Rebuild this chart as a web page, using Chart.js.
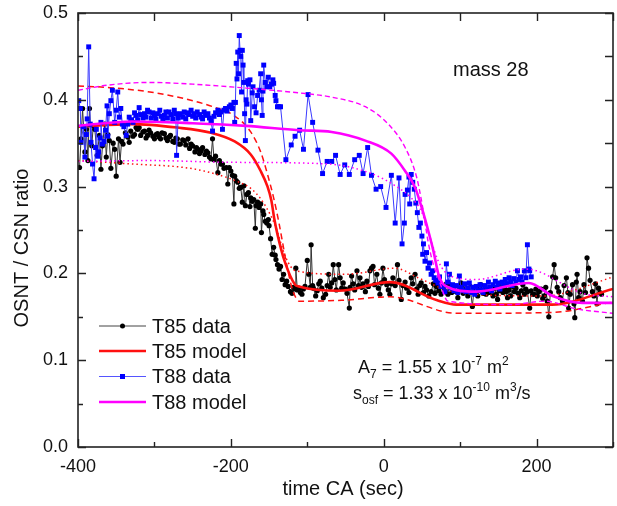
<!DOCTYPE html>
<html>
<head>
<meta charset="utf-8">
<script src="https://cdn.jsdelivr.net/npm/chart.js@4.4.1/dist/chart.umd.min.js"></script>
<style>
  html, body { margin: 0; padding: 0; background: #fff; }
  #wrap { width: 617px; height: 506px; }
</style>
</head>
<body>
<div id="wrap"><canvas id="chart" width="617" height="506"></canvas></div>
<script>
// [time CA (sec), OSNT / CSN ratio]
const t85Data = [
  [-398,0.322],[-396,0.355],[-394,0.390],[-391,0.340],[-389,0.366],[-387,0.330],[-385,0.390],[-382,0.347],
  [-380,0.370],[-378,0.366],[-375,0.336],[-372,0.359],[-370,0.320],[-368,0.347],[-365,0.372],[-363,0.334],
  [-361,0.360],[-359,0.353],[-357,0.321],[-354,0.350],[-352,0.343],[-350,0.312],[-347,0.355],[-345,0.328],
  [-343,0.352],[-341,0.349],[-338,0.362],[-335,0.357],[-333,0.351],[-331,0.364],[-328,0.358],[-326,0.360],
  [-324,0.368],[-322,0.366],[-320,0.368],[-318,0.359],[-315,0.363],[-313,0.364],[-311,0.356],[-309,0.359],
  [-307,0.365],[-305,0.362],[-302,0.358],[-300,0.355],[-298,0.360],[-296,0.361],[-294,0.357],[-292,0.355],
  [-290,0.362],[-287,0.361],[-285,0.356],[-283,0.353],[-281,0.357],[-279,0.359],[-276,0.352],[-274,0.351],
  [-272,0.356],[-270,0.355],[-268,0.349],[-266,0.349],[-263,0.354],[-261,0.353],[-259,0.348],[-256,0.355],
  [-254,0.344],[-252,0.349],[-250,0.347],[-247,0.340],[-245,0.345],[-243,0.343],[-241,0.338],[-239,0.341],
  [-237,0.345],[-234,0.337],[-232,0.341],[-230,0.339],[-228,0.334],[-226,0.332],[-224,0.355],[-222,0.331],
  [-220,0.335],[-217,0.316],[-215,0.330],[-213,0.326],[-211,0.326],[-209,0.321],[-206,0.322],[-204,0.303],
  [-202,0.322],[-200,0.318],[-198,0.313],[-196,0.280],[-195,0.312],[-193,0.307],[-191,0.305],[-189,0.298],
  [-187,0.299],[-185,0.282],[-183,0.301],[-181,0.278],[-179,0.291],[-177,0.293],[-175,0.277],[-174,0.287],
  [-172,0.283],[-170,0.285],[-168,0.252],[-167,0.278],[-165,0.282],[-163,0.276],[-161,0.280],[-160,0.247],
  [-158,0.272],[-157,0.268],[-155,0.260],[-153,0.258],[-151,0.262],[-150,0.255],[-148,0.240],[-146,0.222],
  [-144,0.230],[-142,0.221],[-141,0.216],[-139,0.210],[-137,0.205],[-135,0.208],[-133,0.193],[-131,0.199],
  [-129,0.187],[-127,0.191],[-125,0.185],[-122,0.179],[-120,0.177],[-118,0.184],[-116,0.182],[-115,0.206],
  [-113,0.181],[-111,0.183],[-109,0.178],[-107,0.176],[-105,0.182],[-103,0.185],[-100,0.215],[-98,0.199],
  [-96,0.184],[-95,0.233],[-93,0.186],[-92,0.183],[-89,0.174],[-87,0.180],[-85,0.188],[-83,0.191],
  [-81,0.183],[-79,0.172],[-76,0.176],[-74,0.186],[-72,0.199],[-70,0.184],[-68,0.189],[-66,0.210],
  [-64,0.193],[-62,0.181],[-59,0.210],[-57,0.195],[-55,0.183],[-53,0.189],[-50,0.182],[-48,0.177],
  [-45,0.160],[-44,0.184],[-42,0.197],[-40,0.188],[-38,0.181],[-35,0.203],[-33,0.186],[-31,0.195],
  [-29,0.184],[-27,0.188],[-24,0.179],[-22,0.191],[-20,0.185],[-18,0.203],[-16,0.206],[-14,0.208],
  [-12,0.187],[-9,0.199],[-7,0.183],[-5,0.176],[-3,0.189],[-1,0.206],[1,0.193],[4,0.187],
  [6,0.181],[8,0.176],[10,0.188],[12,0.195],[15,0.186],[18,0.210],[20,0.192],[23,0.170],
  [25,0.186],[28,0.190],[30,0.183],[33,0.178],[36,0.195],[38,0.188],[41,0.199],[43,0.182],
  [45,0.176],[47,0.186],[49,0.189],[52,0.178],[54,0.185],[56,0.181],[59,0.174],[62,0.179],
  [65,0.188],[67,0.177],[69,0.185],[72,0.180],[75,0.176],[78,0.184],[80,0.179],[82,0.188],
  [84,0.176],[86,0.187],[89,0.178],[91,0.183],[95,0.179],[97,0.172],[99,0.184],[101,0.189],
  [104,0.177],[106,0.183],[108,0.181],[110,0.174],[113,0.185],[116,0.162],[118,0.180],[121,0.179],
  [123,0.174],[125,0.183],[127,0.187],[130,0.177],[132,0.181],[134,0.176],[136,0.184],[138,0.178],
  [140,0.181],[143,0.174],[145,0.183],[147,0.176],[149,0.170],[151,0.180],[153,0.187],[156,0.178],
  [158,0.183],[160,0.179],[162,0.172],[164,0.181],[166,0.174],[169,0.185],[171,0.179],[173,0.183],
  [176,0.177],[178,0.172],[180,0.180],[182,0.187],[184,0.176],[186,0.182],[188,0.179],[191,0.160],
  [193,0.180],[195,0.176],[197,0.176],[199,0.182],[201,0.174],[203,0.179],[206,0.182],[208,0.171],
  [210,0.174],[212,0.184],[214,0.168],[216,0.150],[218,0.178],[221,0.196],[223,0.210],[225,0.195],
  [227,0.184],[229,0.179],[231,0.172],[234,0.168],[236,0.186],[239,0.195],[241,0.178],[242,0.160],
  [244,0.176],[247,0.187],[249,0.165],[250,0.149],[252,0.190],[253,0.199],[255,0.172],[257,0.179],
  [260,0.168],[262,0.187],[264,0.178],[266,0.218],[268,0.206],[270,0.192],[273,0.179],[275,0.174],
  [277,0.188],[279,0.165],[281,0.183],[283,0.178],[285,0.176]
];

const t88Data = [
  [-399,0.399],[-397,0.390],[-396,0.351],[-393,0.369],[-391,0.334],[-389,0.360],[-388,0.378],[-386,0.461],
  [-384,0.372],[-383,0.351],[-381,0.326],[-379,0.309],[-377,0.345],[-376,0.366],[-374,0.335],[-373,0.340],
  [-371,0.356],[-370,0.374],[-368,0.349],[-366,0.352],[-364,0.365],[-362,0.393],[-361,0.358],[-359,0.384],
  [-357,0.399],[-355,0.411],[-352,0.374],[-350,0.388],[-348,0.409],[-346,0.380],[-344,0.390],[-342,0.372],
  [-340,0.369],[-337,0.359],[-335,0.372],[-333,0.380],[-330,0.377],[-328,0.374],[-326,0.385],[-324,0.382],
  [-322,0.377],[-320,0.391],[-318,0.383],[-315,0.379],[-313,0.384],[-311,0.380],[-309,0.388],[-307,0.386],
  [-304,0.379],[-302,0.385],[-300,0.382],[-298,0.378],[-296,0.384],[-293,0.388],[-291,0.381],[-289,0.377],
  [-287,0.382],[-285,0.386],[-283,0.379],[-281,0.386],[-278,0.383],[-276,0.378],[-274,0.388],[-272,0.384],
  [-271,0.336],[-269,0.379],[-267,0.383],[-266,0.384],[-263,0.380],[-261,0.386],[-259,0.378],[-257,0.385],
  [-255,0.383],[-252,0.388],[-250,0.381],[-248,0.384],[-246,0.379],[-244,0.386],[-241,0.383],[-239,0.380],
  [-237,0.378],[-235,0.386],[-233,0.382],[-230,0.384],[-228,0.379],[-226,0.376],[-224,0.364],[-222,0.381],
  [-220,0.385],[-217,0.388],[-215,0.383],[-213,0.386],[-211,0.366],[-209,0.388],[-207,0.390],[-205,0.387],
  [-202,0.392],[-200,0.394],[-198,0.390],[-196,0.397],[-195,0.374],[-194,0.397],[-193,0.442],[-192,0.424],
  [-191,0.455],[-190,0.430],[-189,0.474],[-188,0.457],[-187,0.450],[-186,0.409],[-185,0.457],[-184,0.440],
  [-183,0.420],[-182,0.384],[-181,0.353],[-180,0.400],[-179,0.395],[-178,0.422],[-177,0.418],[-175,0.423],
  [-174,0.376],[-172,0.408],[-171,0.415],[-169,0.392],[-167,0.385],[-165,0.405],[-163,0.411],[-161,0.430],
  [-160,0.400],[-159,0.382],[-158,0.410],[-157,0.440],[-155,0.420],[-153,0.415],[-151,0.426],[-149,0.415],
  [-147,0.418],[-145,0.423],[-144,0.419],[-142,0.405],[-141,0.399],[-139,0.392],[-137,0.392],[-135,0.392],
  [-128,0.331],[-121,0.348],[-116,0.358],[-110,0.365],[-105,0.343],[-99,0.406],[-93,0.374],[-86,0.342],
  [-80,0.315],[-74,0.329],[-68,0.329],[-63,0.336],[-57,0.314],[-51,0.325],[-45,0.314],[-38,0.331],
  [-32,0.336],[-27,0.315],[-21,0.345],[-16,0.313],[-10,0.297],[-4,0.300],[3,0.276],[10,0.313],
  [15,0.258],[20,0.310],[24,0.234],[27,0.258],[28,0.291],[31,0.296],[33,0.311],[34,0.280],
  [36,0.314],[38,0.305],[40,0.297],[42,0.281],[44,0.270],[46,0.253],[48,0.258],[50,0.243],
  [51,0.222],[52,0.234],[54,0.214],[56,0.224],[58,0.206],[60,0.212],[62,0.199],[64,0.203],
  [66,0.195],[68,0.192],[71,0.189],[73,0.196],[75,0.185],[77,0.185],[80,0.179],[82,0.211],
  [84,0.190],[86,0.199],[88,0.183],[90,0.187],[92,0.180],[95,0.186],[97,0.178],[99,0.197],
  [101,0.184],[104,0.180],[106,0.188],[108,0.179],[110,0.183],[112,0.189],[115,0.178],[117,0.184],
  [119,0.176],[121,0.185],[124,0.180],[126,0.187],[128,0.181],[130,0.178],[132,0.186],[135,0.182],
  [137,0.190],[139,0.184],[141,0.180],[143,0.187],[146,0.191],[148,0.184],[150,0.189],[152,0.182],
  [155,0.190],[157,0.186],[159,0.193],[161,0.188],[164,0.195],[166,0.190],[168,0.186],[170,0.194],
  [173,0.190],[175,0.203],[177,0.193],[179,0.196],[181,0.190],[184,0.203],[186,0.195],[188,0.233],
  [190,0.205],[191,0.203],[193,0.196]
];

// model curves
const t85Model = [
  [-400,0.369],[-330,0.372],[-270,0.368],[-226,0.362],[-195,0.352],[-174,0.337],[-161,0.318],[-152,0.300],
  [-147,0.284],[-143,0.262],[-139,0.245],[-130,0.215],[-116,0.187],[-111,0.185],[-59,0.180],[8,0.190],
  [70,0.169],[95,0.164],[220,0.164],[300,0.182]
];
const t85ModelDash = [
  [-400,0.416],[-358,0.414],[-306,0.409],[-259,0.401],[-220,0.391],[-196,0.382],[-174,0.363],[-161,0.340],
  [-152,0.314],[-144,0.287],[-137,0.258],[-128,0.215],[-120,0.183],[-115,0.172],[-111,0.168],[-55,0.169],
  [8,0.173],[95,0.154],[220,0.155],[300,0.167]
];
const t85ModelDot = [
  [-400,0.330],[-328,0.326],[-261,0.322],[-226,0.316],[-189,0.305],[-174,0.298],[-161,0.286],[-148,0.267],
  [-141,0.253],[-128,0.218],[-115,0.203],[-50,0.199],[15,0.206],[45,0.195],[82,0.181],[120,0.176],
  [210,0.174],[230,0.176],[300,0.196]
];
const t88Model = [
  [-400,0.370],[-330,0.375],[-250,0.373],[-180,0.370],[-111,0.365],[-68,0.363],[-24,0.353],[10,0.338],
  [28,0.318],[41,0.299],[51,0.272],[58,0.250],[65,0.226],[72,0.198],[80,0.186],[121,0.179],
  [190,0.189],[221,0.174],[260,0.166],[300,0.166]
];
const t88ModelDash = [
  [-400,0.411],[-360,0.417],[-306,0.420],[-250,0.418],[-202,0.415],[-111,0.408],[-68,0.403],[-24,0.392],
  [6,0.372],[28,0.345],[43,0.311],[51,0.276],[58,0.237],[65,0.210],[71,0.196],[84,0.168],
  [166,0.164],[210,0.168],[253,0.159],[300,0.154]
];
const t88ModelDot = [
  [-400,0.329],[-306,0.330],[-202,0.328],[-72,0.326],[-16,0.315],[15,0.301],[36,0.287],[49,0.272],
  [56,0.255],[63,0.235],[71,0.215],[80,0.202],[100,0.194],[121,0.193],[185,0.205],[200,0.203],
  [260,0.177],[300,0.173]
];

const xLabelTicks = [-400, -200, 0, 200];
const yLabelTicks = [0, 0.1, 0.2, 0.3, 0.4, 0.5];

const legendItems = ['T85 data', 'T85 model', 'T88 data', 'T88 model'];

const FONT = '"Liberation Sans", Arial, sans-serif';
const RED = '#ff1010';
const MAGENTA = '#ff00ff';
const BLUE = '#0000ff';

const toXY = arr => arr.map(p => ({ x: p[0], y: p[1] }));

function modelSet(arr, color, width, dash, order) {
    return {
        data: toXY(arr),
        showLine: true,
        borderColor: color,
        borderWidth: width,
        borderDash: dash,
        pointRadius: 0,
        cubicInterpolationMode: 'monotone',
        fill: false,
        order: order
    };
}

const frameAndText = {
    id: 'frameAndText',
    afterDatasetsDraw(chart) {
        const { ctx, chartArea: a, scales: { x, y } } = chart;
        ctx.save();
        ctx.strokeStyle = '#222';
        ctx.lineWidth = 1.6;
        ctx.strokeRect(a.left, a.top, a.right - a.left, a.bottom - a.top);

        ctx.lineWidth = 1.4;
        ctx.beginPath();
        for (let i = 0; i <= 7; i++) {
            const v = -400 + i * 100;
            const px = Math.round(x.getPixelForValue(v)) + 0.5;
            const major = xLabelTicks.includes(v);
            ctx.moveTo(px, a.bottom); ctx.lineTo(px, a.bottom - (major ? 8 : 5));
            ctx.moveTo(px, a.top); ctx.lineTo(px, a.top + 8);
        }
        for (let i = 0; i <= 10; i++) {
            const py = Math.round(y.getPixelForValue(i * 0.05)) + 0.5;
            const major = i % 2 === 0;
            ctx.moveTo(a.left, py); ctx.lineTo(a.left + (major ? 8 : 5), py);
            ctx.moveTo(a.right, py); ctx.lineTo(a.right - 8, py);
        }
        ctx.stroke();
        ctx.restore();
    },
    afterDraw(chart) {
        const ctx = chart.ctx;
        ctx.save();
        ctx.fillStyle = '#111';
        ctx.textBaseline = 'alphabetic';

        // axis titles
        ctx.font = '20px ' + FONT;
        ctx.textAlign = 'center';
        ctx.fillText('time CA (sec)', 343, 495);
        ctx.save();
        ctx.translate(28, 248);
        ctx.rotate(-Math.PI / 2);
        ctx.fillText('OSNT / CSN ratio', 0, 0);
        ctx.restore();

        // mass label
        ctx.textAlign = 'left';
        ctx.fillText('mass 28', 453, 76);

        // legend
        const rows = [326, 351, 376.5, 402];
        legendItems.forEach((label, i) => {
            const yy = rows[i];
            ctx.save();
            ctx.beginPath();
            ctx.moveTo(99, yy); ctx.lineTo(146, yy);
            if (i === 0) { ctx.strokeStyle = '#444'; ctx.lineWidth = 1; }
            if (i === 1) { ctx.strokeStyle = RED; ctx.lineWidth = 2.5; }
            if (i === 2) { ctx.strokeStyle = '#5555ff'; ctx.lineWidth = 1; }
            if (i === 3) { ctx.strokeStyle = MAGENTA; ctx.lineWidth = 2.5; }
            ctx.stroke();
            if (i === 0) {
                ctx.fillStyle = '#000';
                ctx.beginPath(); ctx.arc(122.5, yy, 2.5, 0, Math.PI * 2); ctx.fill();
            }
            if (i === 2) {
                ctx.fillStyle = BLUE;
                ctx.fillRect(120, yy - 2.5, 5, 5);
            }
            ctx.restore();
            ctx.fillStyle = '#111';
            ctx.font = '20px ' + FONT;
            ctx.textBaseline = 'middle';
            ctx.fillText(label, 152, yy + 1);
        });

        // parameter annotation with sub/superscripts
        ctx.textBaseline = 'alphabetic';
        const big = '18px ' + FONT, small = '12px ' + FONT;
        function runs(x0, y0, parts) {
            let xx = x0;
            parts.forEach(([txt, kind]) => {
                ctx.font = kind ? small : big;
                const dy = kind === 'sub' ? 5 : kind === 'sup' ? -8 : 0;
                ctx.fillText(txt, xx, y0 + dy);
                xx += ctx.measureText(txt).width;
            });
        }
        runs(358, 373, [['A'], ['7', 'sub'], [' = 1.55 x 10'], ['-7', 'sup'], [' m'], ['2', 'sup']]);
        runs(353, 399, [['s'], ['osf', 'sub'], [' = 1.33 x 10'], ['-10', 'sup'], [' m'], ['3', 'sup'], ['/s']]);
        ctx.restore();
    }
};

new Chart(document.getElementById('chart'), {
    type: 'scatter',
    data: {
        datasets: [
            {
                data: toXY(t85Data),
                showLine: true,
                borderColor: '#333',
                borderWidth: 1,
                pointRadius: 2.6,
                pointBackgroundColor: '#000',
                pointBorderWidth: 0,
                order: 9
            },
            modelSet(t85ModelDot, RED, 1.5, [1.5, 3], 8),
            modelSet(t85ModelDash, RED, 1.5, [6, 4], 7),
            modelSet(t85Model, RED, 2.6, [], 6),
            {
                data: toXY(t88Data),
                showLine: true,
                borderColor: '#3a3aff',
                borderWidth: 1,
                pointStyle: 'rect',
                pointRadius: 3.5,
                pointBackgroundColor: BLUE,
                pointBorderWidth: 0,
                order: 5
            },
            modelSet(t88ModelDot, MAGENTA, 1.5, [1.5, 3], 4),
            modelSet(t88ModelDash, MAGENTA, 1.4, [5, 3], 3),
            modelSet(t88Model, MAGENTA, 2.6, [], 2)
        ]
    },
    options: {
        responsive: false,
        animation: false,
        devicePixelRatio: 1,
        layout: { padding: { top: 13, right: 1, left: 0, bottom: 0 } },
        plugins: { legend: { display: false }, tooltip: { enabled: false } },
        elements: { line: { tension: 0 } },
        scales: {
            x: {
                type: 'linear',
                min: -400,
                max: 300,
                grid: { display: false, drawTicks: false },
                border: { display: false },
                ticks: {
                    stepSize: 100,
                    padding: 9,
                    color: '#111',
                    font: { family: FONT, size: 18 },
                    maxRotation: 0,
                    autoSkip: false,
                    callback: v => xLabelTicks.includes(v) ? String(v) : ''
                },
                afterFit: s => { s.height = 59; s.paddingLeft = 0; s.paddingRight = 0; }
            },
            y: {
                min: 0,
                max: 0.5,
                grid: { display: false, drawTicks: false },
                border: { display: false },
                ticks: {
                    stepSize: 0.1,
                    padding: 10,
                    color: '#111',
                    font: { family: FONT, size: 18 },
                    callback: v => yLabelTicks.some(t => Math.abs(t - v) < 1e-6) ? v.toFixed(1) : ''
                },
                afterFit: s => { s.width = 78; s.paddingTop = 0; s.paddingBottom = 0; }
            }
        }
    },
    plugins: [frameAndText]
});
</script>
</body>
</html>
